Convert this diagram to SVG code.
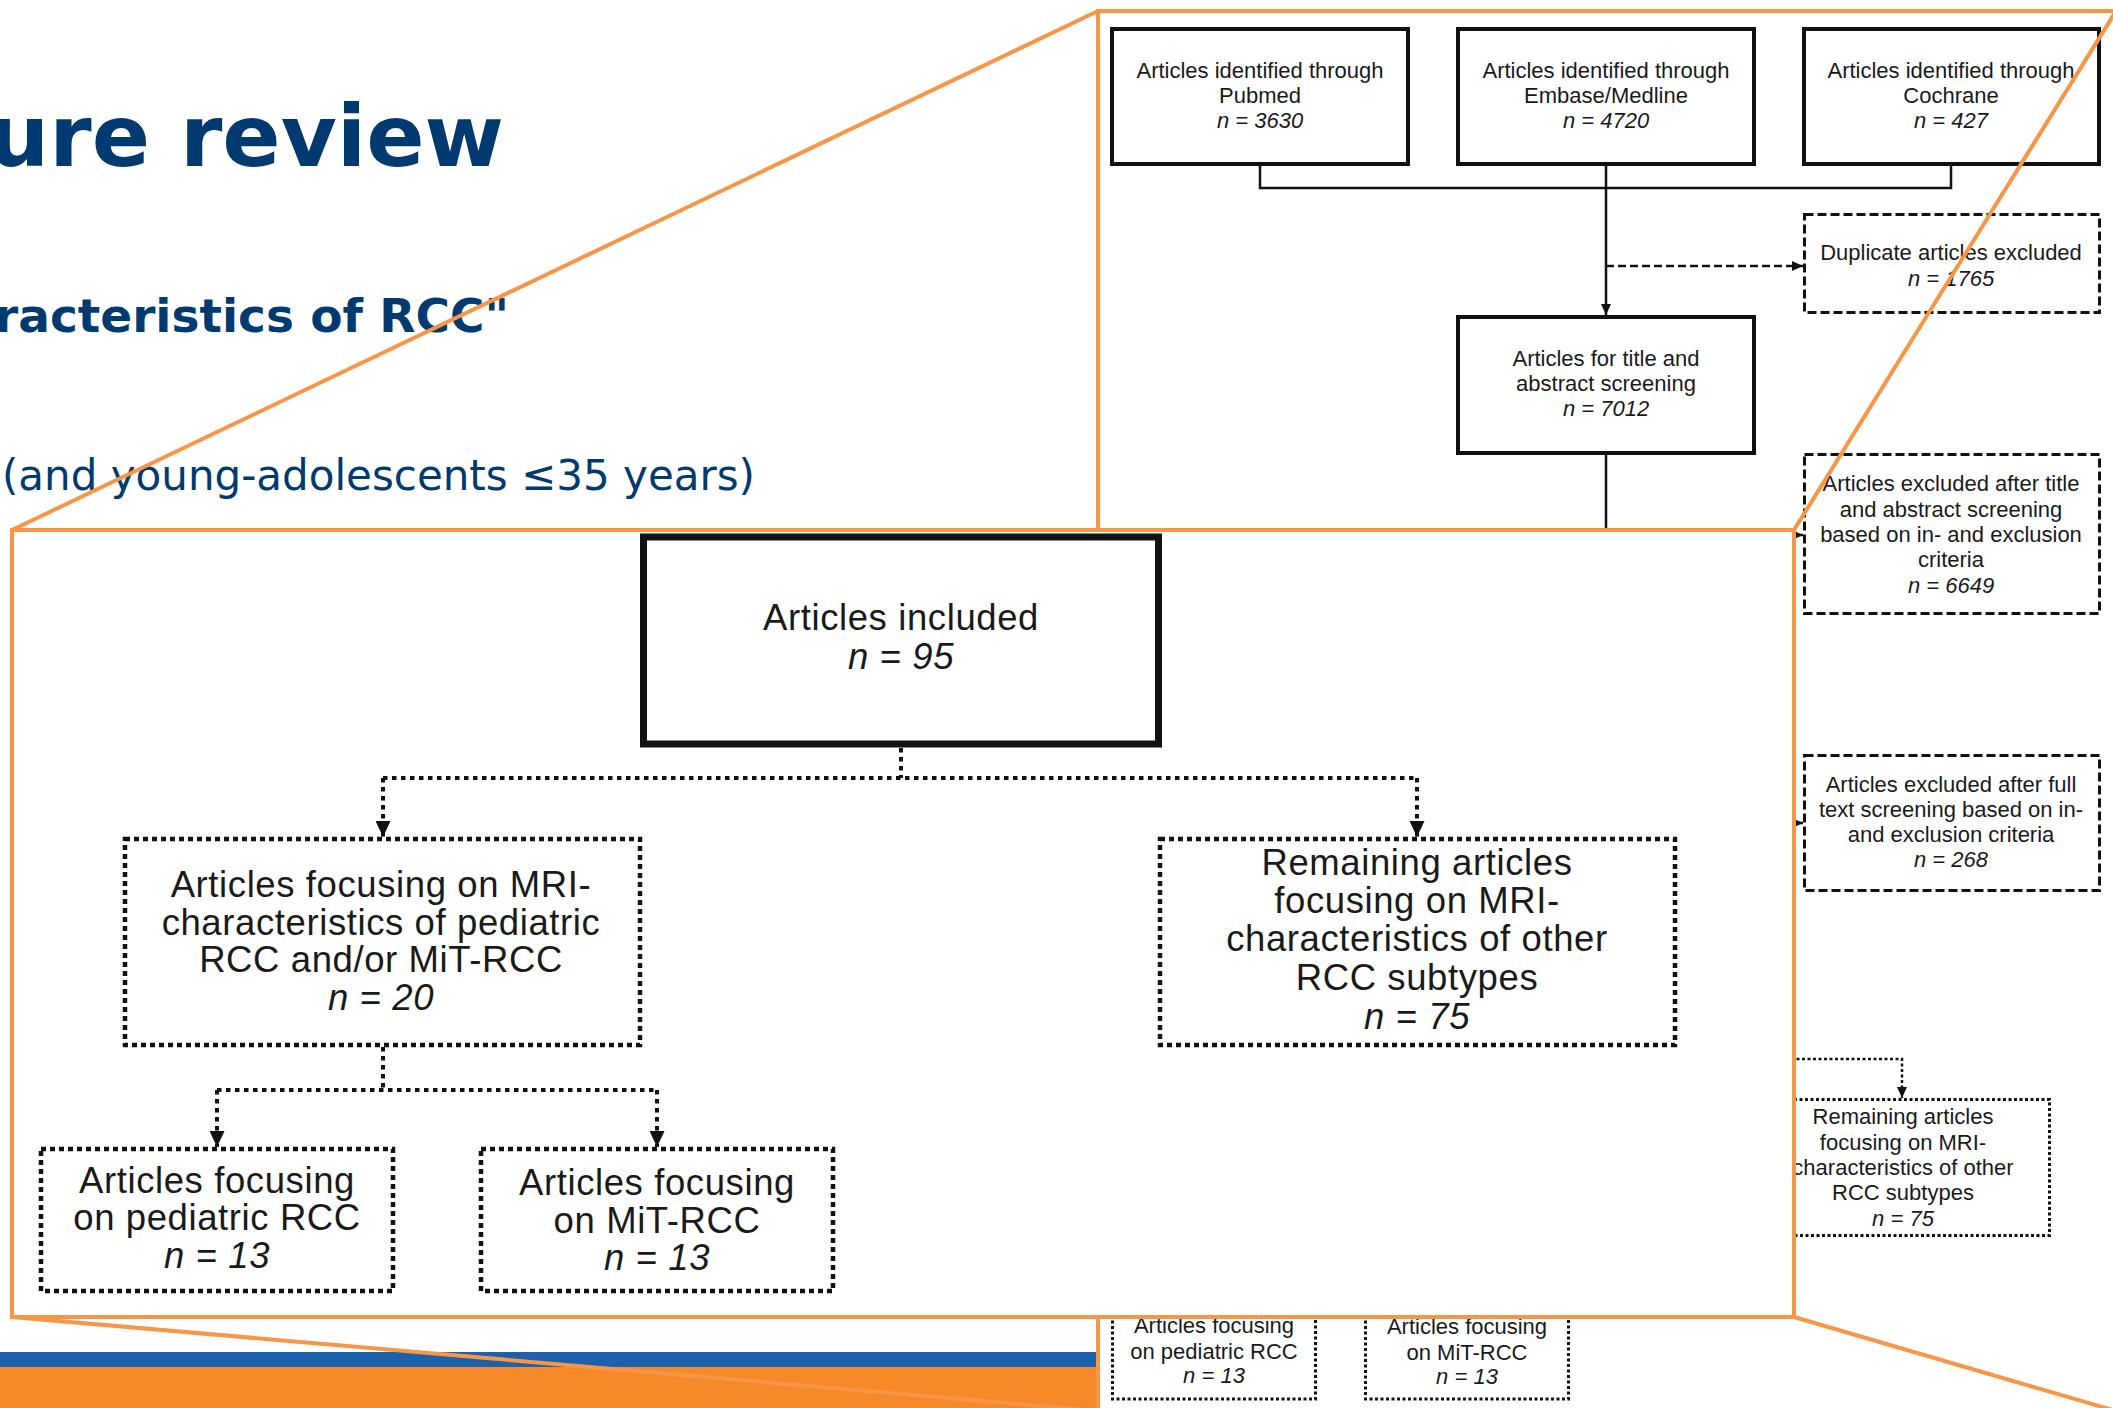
<svg xmlns="http://www.w3.org/2000/svg" width="2113" height="1408" viewBox="0 0 2113 1408">
<defs>
<style>
.title{font-family:"DejaVu Sans",Verdana,sans-serif;fill:#003A70}
.ft{font-family:"Liberation Sans",Arial,sans-serif;fill:#1a1a1a;text-anchor:middle}
.ov{font-size:22px}
.in{font-size:36.5px;letter-spacing:0.6px}
.it{font-style:italic}
.solid{fill:#fff;stroke:#111;stroke-width:4}
.dash{fill:#fff;stroke:#111;stroke-width:3;stroke-dasharray:9 4}
.dot{fill:#fff;stroke:#111;stroke-width:3;stroke-dasharray:3 2.5}
.big{fill:#fff;stroke:#111;stroke-width:7}
.idot{fill:#fff;stroke:#111;stroke-width:4.5;stroke-dasharray:5 4}
.line{fill:none;stroke:#111;stroke-width:2.5}
.cdot{fill:none;stroke:#111;stroke-width:4;stroke-dasharray:4.5 4.5}
.frame{fill:none;stroke:#F79646;stroke-width:4}
</style>
<marker id="as" markerUnits="userSpaceOnUse" markerWidth="11" markerHeight="10" refX="11" refY="5" orient="auto" viewBox="0 0 11 10"><path d="M0,0 L11,5 L0,10 Z" fill="#111"/></marker>
<marker id="ab" markerUnits="userSpaceOnUse" markerWidth="16" markerHeight="15" refX="16" refY="7.5" orient="auto" viewBox="0 0 16 15"><path d="M0,0 L16,7.5 L0,15 Z" fill="#111"/></marker>
</defs>
<rect width="2113" height="1408" fill="#fff"/>
<g id="slide-title">
<text class="title" x="504" y="166" font-size="86" font-weight="bold" text-anchor="end">ure review</text>
<text class="title" x="509" y="332" font-size="47" font-weight="bold" text-anchor="end">racteristics of RCC"</text>
<text class="title" x="755" y="490" font-size="42" text-anchor="end">(and young-adolescents ≤35 years)</text>
</g>
<g id="footer-bars">
<rect x="0" y="1352" width="1098" height="15" fill="#1B61AB"/>
<rect x="0" y="1367" width="1098" height="41" fill="#F68A28"/>
</g>
<g id="overview">
<rect x="1098" y="0" width="1015" height="1408" fill="#fff"/>
<g id="ov-connectors">
<path class="line" d="M1260,166 V188 H1951 V166"/>
<path class="line" d="M1606,166 V315" marker-end="url(#as)"/>
<path class="line" d="M1606,266 H1803" stroke-dasharray="8 4" marker-end="url(#as)"/>
<path class="line" d="M1606,455 V535"/>
<path class="line" d="M1780,535 H1803" marker-end="url(#as)"/>
<path class="line" d="M1780,823 H1803" marker-end="url(#as)"/>
<path class="line" d="M1780,1059 H1902 V1098" stroke-dasharray="3 2.5" marker-end="url(#as)"/>
</g>
<g id="ov-pubmed"><rect class="solid" x="1112" y="29" width="296" height="135"/>
<text class="ft ov" x="1260" y="78">Articles identified through</text><text class="ft ov" x="1260" y="103">Pubmed</text><text class="ft ov it" x="1260" y="128">n = 3630</text></g>
<g id="ov-embase"><rect class="solid" x="1458" y="29" width="296" height="135"/>
<text class="ft ov" x="1606" y="78">Articles identified through</text><text class="ft ov" x="1606" y="103">Embase/Medline</text><text class="ft ov it" x="1606" y="128">n = 4720</text></g>
<g id="ov-cochrane"><rect class="solid" x="1804" y="29" width="295" height="135"/>
<text class="ft ov" x="1951" y="78">Articles identified through</text><text class="ft ov" x="1951" y="103">Cochrane</text><text class="ft ov it" x="1951" y="128">n = 427</text></g>
<g id="ov-duplicate"><rect class="dash" x="1804.5" y="214.5" width="295" height="98"/>
<text class="ft ov" x="1951" y="260">Duplicate articles excluded</text><text class="ft ov it" x="1951" y="286">n = 1765</text></g>
<g id="ov-screening"><rect class="solid" x="1458" y="317" width="296" height="136"/>
<text class="ft ov" x="1606" y="366">Articles for title and</text><text class="ft ov" x="1606" y="391">abstract screening</text><text class="ft ov it" x="1606" y="416">n = 7012</text></g>
<g id="ov-excl-title"><rect class="dash" x="1804.5" y="454.5" width="295" height="159"/>
<text class="ft ov" x="1951" y="491">Articles excluded after title</text><text class="ft ov" x="1951" y="517">and abstract screening</text><text class="ft ov" x="1951" y="542">based on in- and exclusion</text><text class="ft ov" x="1951" y="567">criteria</text><text class="ft ov it" x="1951" y="593">n = 6649</text></g>
<g id="ov-excl-full"><rect class="dash" x="1804.5" y="755.5" width="295" height="135"/>
<text class="ft ov" x="1951" y="792">Articles excluded after full</text><text class="ft ov" x="1951" y="817">text screening based on in-</text><text class="ft ov" x="1951" y="842">and exclusion criteria</text><text class="ft ov it" x="1951" y="867">n = 268</text></g>
<g id="ov-remaining"><rect class="dot" x="1755.5" y="1099.5" width="294" height="136"/>
<text class="ft ov" x="1903" y="1124">Remaining articles</text><text class="ft ov" x="1903" y="1150">focusing on MRI-</text><text class="ft ov" x="1903" y="1175">characteristics of other</text><text class="ft ov" x="1903" y="1200">RCC subtypes</text><text class="ft ov it" x="1903" y="1226">n = 75</text></g>
<g id="ov-pediatric"><rect class="dot" x="1112.5" y="1314" width="203" height="85"/>
<text class="ft ov" x="1214" y="1333">Articles focusing</text><text class="ft ov" x="1214" y="1359">on pediatric RCC</text><text class="ft ov it" x="1214" y="1383">n = 13</text></g>
<g id="ov-mit"><rect class="dot" x="1365.5" y="1314" width="203" height="85"/>
<text class="ft ov" x="1467" y="1334">Articles focusing</text><text class="ft ov" x="1467" y="1360">on MiT-RCC</text><text class="ft ov it" x="1467" y="1384">n = 13</text></g>
</g>
<g id="callout-lines">
<path class="frame" d="M1098,1412 V11 H2116"/>
<path class="frame" d="M12,530 L1098,11 M1794,530 L2116,11 M12,1317 L1098,1411 M1794,1317 L2116,1411"/>
</g>
<g id="inset">
<rect x="12" y="530" width="1782" height="787" fill="#fff" stroke="#F79646" stroke-width="4"/>
<g id="inset-connectors">
<path class="cdot" d="M901,748 V778"/>
<path class="cdot" d="M383,778 H1417"/>
<path class="cdot" d="M383,778 V837" marker-end="url(#ab)"/>
<path class="cdot" d="M1417,778 V837" marker-end="url(#ab)"/>
<path class="cdot" d="M383,1047 V1090"/>
<path class="cdot" d="M217,1090 H657"/>
<path class="cdot" d="M217,1090 V1147" marker-end="url(#ab)"/>
<path class="cdot" d="M657,1090 V1147" marker-end="url(#ab)"/>
</g>
<g id="included"><rect class="big" x="643.5" y="537" width="515" height="207"/>
<text class="ft in" x="901" y="630">Articles included</text><text class="ft in it" x="901" y="669">n = 95</text></g>
<g id="mri-pediatric"><rect class="idot" x="125" y="839" width="515" height="206"/>
<text class="ft in" x="381" y="897">Articles focusing on MRI-</text><text class="ft in" x="381" y="935">characteristics of pediatric</text><text class="ft in" x="381" y="972">RCC and/or MiT-RCC</text><text class="ft in it" x="381" y="1010">n = 20</text></g>
<g id="remaining"><rect class="idot" x="1160" y="839" width="515" height="206"/>
<text class="ft in" x="1417" y="875">Remaining articles</text><text class="ft in" x="1417" y="913">focusing on MRI-</text><text class="ft in" x="1417" y="951">characteristics of other</text><text class="ft in" x="1417" y="990">RCC subtypes</text><text class="ft in it" x="1417" y="1029">n = 75</text></g>
<g id="pediatric"><rect class="idot" x="41" y="1149" width="352" height="142"/>
<text class="ft in" x="217" y="1193">Articles focusing</text><text class="ft in" x="217" y="1230">on pediatric RCC</text><text class="ft in it" x="217" y="1268">n = 13</text></g>
<g id="mit"><rect class="idot" x="481" y="1149" width="352" height="142"/>
<text class="ft in" x="657" y="1195">Articles focusing</text><text class="ft in" x="657" y="1233">on MiT-RCC</text><text class="ft in it" x="657" y="1270">n = 13</text></g>
</g>
</svg>
